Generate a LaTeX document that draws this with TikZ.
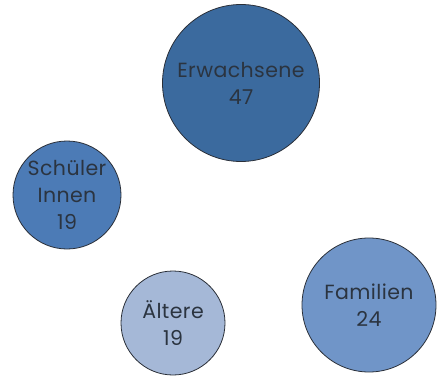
\documentclass[tikz,border=0pt]{standalone}
\usepackage{fontspec}
\setmainfont{Poppins}[LetterSpace=2]
\definecolor{cA}{HTML}{3B6A9E}
\definecolor{cB}{HTML}{4C7BB6}
\definecolor{cC}{HTML}{A5B8D7}
\definecolor{cD}{HTML}{7095C8}
\definecolor{txt}{HTML}{2B3440}
\definecolor{rim}{HTML}{2A2F38}
\tikzset{bubble/.style={circle, draw=rim, line width=0.8pt, inner sep=0pt, align=center, text=txt, font=\fontsize{20.5}{27}\selectfont}}
\begin{document}
\begin{tikzpicture}[x=1pt,y=-1pt]
\useasboundingbox (0,0) rectangle (441,385);
\node[bubble, fill=cA, minimum size=157pt] (erw) at (241,83) {Erwachsene\\47};
\node[bubble, fill=cB, minimum size=108pt] (sch) at (67,195) {Schüler\\Innen\\19};
\node[bubble, fill=cC, minimum size=104pt] (alt) at (173,323) {Ältere\\19};
\node[bubble, fill=cD, minimum size=134pt] (fam) at (369,305) {Familien\\24};
\end{tikzpicture}
\end{document}
